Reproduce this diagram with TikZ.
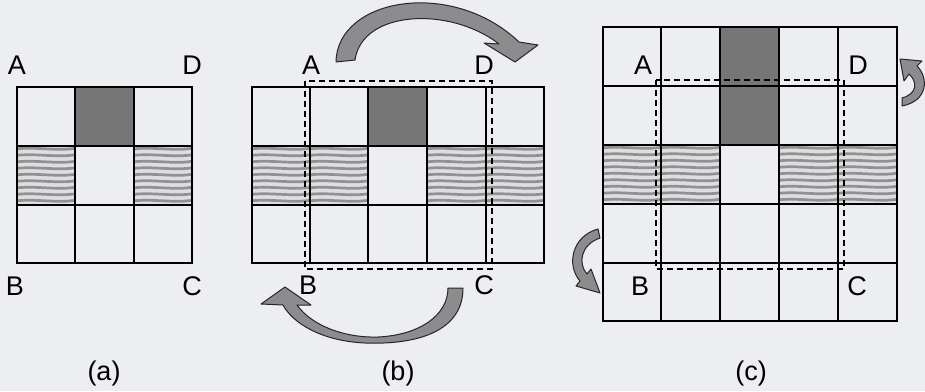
\documentclass[tikz,border=0pt]{standalone}
\usepackage{fontspec}
\setmainfont{Liberation Sans}
\definecolor{bgc}{RGB}{237,238,242}
\definecolor{darkcell}{RGB}{118,118,118}
\definecolor{hatchbg}{RGB}{222,222,224}
\definecolor{hatchfg}{RGB}{145,145,147}
\definecolor{arrowfill}{RGB}{140,140,142}
\tikzset{
  gridline/.style={draw=black, line width=1.4pt},
  dashrect/.style={draw=black, line width=1.3pt, dash pattern=on 6pt off 4pt},
  fatarrow/.style={fill=arrowfill, draw=black!85, line width=1pt, line join=round},
  lbl/.style={font=\fontsize{27}{30}\selectfont, inner sep=0pt, anchor=center},
  stripe/.style={draw=hatchfg, line width=2.7pt},
}
\newcommand\hatchcell[4]{%
  \begin{scope}
    \clip (#1,#2) rectangle (#3,#4);
    \fill[hatchbg] (#1,#2) rectangle (#3,#4);
    \foreach \k [evaluate=\k as \yy using #2+3+\k*6.5] in {0,...,8}{
      \draw[stripe] ({#1-2},\yy) .. controls ({#1+20},{\yy-2.5}) and ({#1+40},{\yy+2.5}) .. ({#3+2},{\yy-1});
    }
  \end{scope}}
\begin{document}
\begin{tikzpicture}[x=1pt,y=-1pt]
\useasboundingbox (0,0) rectangle (925,391);
\fill[bgc] (0,0) rectangle (925,391);

% ---------- (a) ----------
\fill[darkcell] (75,87) rectangle (134,146);
\hatchcell{17}{146}{75}{205}
\hatchcell{134}{146}{192}{205}
\draw[gridline] (17,87) rectangle (192,263);
\foreach \x in {75,134} \draw[gridline] (\x,87) -- (\x,263);
\foreach \y in {146,205} \draw[gridline] (17,\y) -- (192,\y);
\node[lbl] (aA) at (17,65) {A};
\node[lbl] (aD) at (192,65) {D};
\node[lbl] (aB) at (15,286) {B};
\node[lbl] (aC) at (192,286) {C};
\node[lbl] (capa) at (104,374) {(a)};

% ---------- (b) ----------
\fill[darkcell] (368,87) rectangle (427,146);
\hatchcell{252}{146}{310}{205}
\hatchcell{310}{146}{368}{205}
\hatchcell{427}{146}{486}{205}
\hatchcell{486}{146}{544}{205}
\draw[gridline] (252,87) rectangle (544,263);
\foreach \x in {310,368,427,486} \draw[gridline] (\x,87) -- (\x,263);
\foreach \y in {146,205} \draw[gridline] (252,\y) -- (544,\y);
\draw[dashrect] (305,81) rectangle (492,269);
\node[lbl] (bA) at (311,65) {A};
\node[lbl] (bD) at (484,65) {D};
\node[lbl] (bB) at (308,285) {B};
\node[lbl] (bC) at (484,285) {C};
\node[lbl] (capb) at (398,374) {(b)};
% top arrow
\draw[fatarrow] (336,62) .. controls (337,-2) and (452,-22) .. (519,42)
  -- (538,45) -- (515,62) -- (484,43) -- (499,44)
  .. controls (450,6) and (362,10) .. (355,60) -- cycle;
% bottom arrow
\draw[fatarrow] (448,288) -- (463,288)
  .. controls (463,330) and (420,345) .. (365,343)
  .. controls (320,341) and (292,322) .. (283,305)
  -- (261,304) -- (285,287) -- (311,305) -- (297,305)
  .. controls (312,326) and (345,338) .. (378,337)
  .. controls (420,335) and (448,315) .. (448,288) -- cycle;

% ---------- (c) ----------
\fill[darkcell] (720,27) rectangle (779,145);
\hatchcell{603}{145}{661}{204}
\hatchcell{661}{145}{720}{204}
\hatchcell{779}{145}{838}{204}
\hatchcell{838}{145}{897}{204}
\draw[gridline] (603,27) rectangle (897,321);
\foreach \x in {661,720,779,838} \draw[gridline] (\x,27) -- (\x,321);
\foreach \y in {86,145,204,263} \draw[gridline] (603,\y) -- (897,\y);
\draw[dashrect] (656,80) rectangle (844,269);
\node[lbl] (cA) at (643,65) {A};
\node[lbl] (cD) at (858,65) {D};
\node[lbl] (cB) at (640,286) {B};
\node[lbl] (cC) at (857,286) {C};
\node[lbl] (capc) at (751,374) {(c)};
% right small arrow
\draw[fatarrow] (900,59) -- (922,61) -- (917,66)
  .. controls (929,78) and (928,101) .. (902,106)
  -- (902,98)
  .. controls (917,94) and (918,82) .. (909,74)
  -- (904,81) -- cycle;
% left small arrow
\draw[fatarrow] (598,229) .. controls (572,236) and (566,265) .. (580,281)
  -- (576,286) -- (600,293) -- (591,269) -- (587,274)
  .. controls (578,264) and (580,245) .. (600,238) -- cycle;
\end{tikzpicture}
\end{document}
